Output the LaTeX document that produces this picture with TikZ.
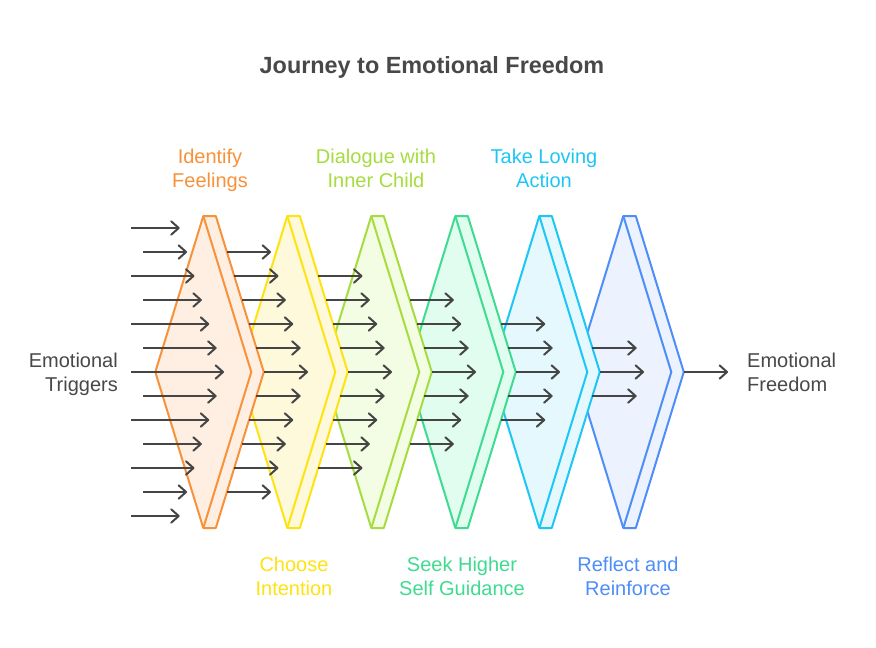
\documentclass[tikz,border=0pt]{standalone}
\usepackage{fontspec}
\setmainfont{Liberation Sans}
\usetikzlibrary{arrows.meta}
\definecolor{c0}{HTML}{F7923A}
\definecolor{f0}{HTML}{FEEFE2}
\definecolor{c1}{HTML}{FDE311}
\definecolor{f1}{HTML}{FFF9DB}
\definecolor{c2}{HTML}{A6DC3F}
\definecolor{f2}{HTML}{F3FDE3}
\definecolor{c3}{HTML}{3FDB91}
\definecolor{f3}{HTML}{E1FDF0}
\definecolor{c4}{HTML}{1CC7F5}
\definecolor{f4}{HTML}{E4F8FE}
\definecolor{c5}{HTML}{4D8EF8}
\definecolor{f5}{HTML}{ECF2FE}
\definecolor{arr}{HTML}{454545}
\definecolor{txt}{HTML}{484848}
\begin{document}
\begin{tikzpicture}[x=1pt,y=-1pt,
  conn/.style={draw=arr, line width=2pt, -{Straight Barb[length=7.5pt,width=13.5pt,line width=2pt,round]}},
  chev/.style={line width=2pt, line join=round},
  lbl/.style={font=\fontsize{20}{24}\selectfont, align=center, inner sep=0pt},
  titlestyle/.style={font=\bfseries\fontsize{23.4}{28}\selectfont, text=txt}]
\useasboundingbox (0,0) rectangle (876,648);
\fill[white] (0,0) rectangle (876,648);
\node[titlestyle] (title) at (432,67) {Journey to Emotional Freedom};
% chevrons, back to front
\foreach \k in {5,4,3,2,1,0}{
  \pgfmathsetmacro{\xo}{203.3+84*\k}
  \draw[chev, draw=c\k, fill=f\k] (\xo-48,372) -- (\xo,216) -- (\xo+12.5,216) -- (\xo+60.5,372) -- (\xo+12.5,528) -- (\xo,528) -- cycle;
  \draw[chev, draw=c\k] (\xo,216) -- (\xo+48,372) -- (\xo,528);
}
% arrows
\foreach \g in {1,...,7}{
  \foreach \r in {0,...,12}{
    \pgfmathtruncatemacro{\d}{abs(\r-6)}
    \pgfmathtruncatemacro{\lim}{8-\g}
    \ifnum\d<\lim\relax
      \ifnum\g=1\relax
        \pgfmathsetmacro{\sx}{131+12*mod(\r,2)}
      \else
        \pgfmathsetmacro{\sx}{263.8+84*(\g-2)-7.385*\d}
      \fi
      \pgfmathsetmacro{\ex}{224+84*(\g-1)-7.385*\d}
      \pgfmathsetmacro{\yy}{228+24*\r}
      \coordinate (s\g-\r) at (\sx,\yy);
      \coordinate (e\g-\r) at (\ex,\yy);
      \draw[conn] (s\g-\r) -- (e\g-\r);
    \fi
  }
}
% labels
\node[lbl, text=c0] (l0) at (210,170.5) {Identify\\Feelings};
\node[lbl, text=c2] (l2) at (376,168.5) {Dialogue with\\Inner Child};
\node[lbl, text=c4] (l4) at (544,168.5) {Take Loving\\Action};
\node[lbl, text=c1] (l1) at (294,576) {Choose\\Intention};
\node[lbl, text=c3] (l3) at (462,576) {Seek Higher\\Self Guidance};
\node[lbl, text=c5] (l5) at (628,576) {Reflect and\\Reinforce};
\node[lbl, align=right, anchor=east, text=txt] (lin) at (118,374) {Emotional\\Triggers};
\node[lbl, align=left, anchor=west, text=txt] (lout) at (747,372) {Emotional\\Freedom};
\end{tikzpicture}
\end{document}
